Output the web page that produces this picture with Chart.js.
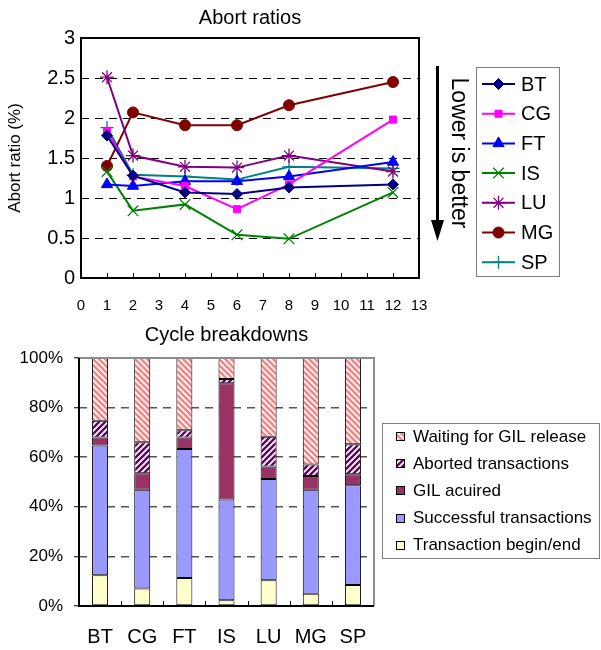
<!DOCTYPE html>
<html><head><meta charset="utf-8">
<script src="https://cdn.jsdelivr.net/npm/chart.js@4.4.0/dist/chart.umd.min.js"></script>
<style>
html,body{margin:0;padding:0;background:#fff;}
#c1{position:absolute;left:0;top:0;}
#c2{position:absolute;left:0;top:320px;}
</style></head><body>
<canvas id="c1" width="601" height="320"></canvas>
<canvas id="c2" width="601" height="330"></canvas>
<script>
// ---------- data: abort ratios ----------
const threads = [1, 2, 4, 6, 8, 12];
const abortBT = [1.78, 1.28, 1.07, 1.05, 1.13, 1.17];
const abortCG = [1.84, 1.27, 1.15, 0.86, 1.17, 1.98];
const abortFT = [1.17, 1.15, 1.21, 1.21, 1.27, 1.45];
const abortIS = [1.33, 0.84, 0.92, 0.54, 0.49, 1.07];
const abortLU = [2.51, 1.53, 1.39, 1.38, 1.53, 1.33];
const abortMG = [1.40, 2.07, 1.91, 1.91, 2.16, 2.45];
const abortSP = [1.88, 1.29, 1.27, 1.23, 1.39, 1.37];
const abortYTicks = [0, 0.5, 1, 1.5, 2, 2.5, 3];
const threadXTicks = [0,1,2,3,4,5,6,7,8,9,10,11,12,13];

// ---------- data: cycle breakdowns (%) ----------
const benchmarks = ['BT', 'CG', 'FT', 'IS', 'LU', 'MG', 'SP'];
const beginEnd   = [12.4, 7.1, 11.3, 2.3, 10.4, 4.9, 8.5];
const successful = [52.3, 39.8, 52.0, 40.6, 40.8, 42.0, 40.2];
const gilAcquired= [3.2, 6.6, 4.6, 46.9, 5.0, 5.5, 4.4];
const aborted    = [6.8, 12.5, 3.0, 1.7, 12.0, 4.7, 12.1];
const waiting    = [25.3, 34.0, 29.1, 8.5, 31.8, 42.9, 34.8];
const pctTicks = [0, 20, 40, 60, 80, 100];

const FONT = "'Liberation Sans', Arial, sans-serif";
Chart.defaults.font.family = FONT;
Chart.defaults.color = '#000';

// ---------- top chart ----------
const lineSeries = [
  {label: 'BT', values: abortBT, color: '#000080', style: 'rectRot',  r: 5.5, bw: 1},
  {label: 'CG', values: abortCG, color: '#FF00FF', style: 'rect',     r: 5,   bw: 1},
  {label: 'FT', values: abortFT, color: '#0000FF', style: 'triangle', r: 6.5, bw: 1},
  {label: 'IS', values: abortIS, color: '#008000', style: 'crossRot', r: 7.5, bw: 1.3},
  {label: 'LU', values: abortLU, color: '#800080', style: 'star',     r: 7,   bw: 1.3},
  {label: 'MG', values: abortMG, color: '#800000', style: 'circle',   r: 5.5, bw: 1},
  {label: 'SP', values: abortSP, color: '#008080', style: 'cross',    r: 6.5, bw: 1.3}
];

function drawMarker(ctx, style, r, bw, color, x, y) {
  ctx.save();
  ctx.fillStyle = color; ctx.strokeStyle = color; ctx.lineWidth = bw;
  Chart.helpers.drawPoint(ctx, {pointStyle: style, radius: r, borderWidth: bw, rotation: 0}, x, y);
  ctx.restore();
}

const topPlugin = {
  id: 'topDecor',
  afterDraw(chart) {
    const ctx = chart.ctx, a = chart.chartArea;
    const xs = chart.scales.x, ys = chart.scales.y;
    ctx.save();
    // inside tick marks
    ctx.strokeStyle = '#000'; ctx.lineWidth = 1;
    ctx.beginPath();
    threadXTicks.forEach(v => {
      if (v <= 0 || v >= 13) return;
      const px = Math.round(xs.getPixelForValue(v)) + 0.5;
      ctx.moveTo(px, a.bottom); ctx.lineTo(px, a.bottom - 5);
    });
    abortYTicks.forEach(v => {
      if (v <= 0 || v >= 3) return;
      const py = Math.round(ys.getPixelForValue(v)) + 0.5;
      ctx.moveTo(a.left, py); ctx.lineTo(a.left + 5, py);
    });
    ctx.stroke();
    // plot border
    ctx.lineWidth = 2; ctx.strokeStyle = '#000';
    ctx.strokeRect(a.left, a.top, a.right - a.left, a.bottom - a.top);

    // arrow "Lower is better"
    ctx.lineWidth = 3;
    ctx.beginPath(); ctx.moveTo(437.5, 66); ctx.lineTo(437.5, 224); ctx.stroke();
    ctx.fillStyle = '#000';
    ctx.beginPath(); ctx.moveTo(431, 220); ctx.lineTo(444, 220); ctx.lineTo(437.5, 241); ctx.closePath(); ctx.fill();
    ctx.save();
    ctx.translate(458, 153); ctx.rotate(Math.PI / 2);
    ctx.font = '23px ' + FONT; ctx.textAlign = 'center'; ctx.textBaseline = 'middle';
    ctx.fillText('Lower is better', 0, 0);
    ctx.restore();

    // legend
    ctx.lineWidth = 1; ctx.strokeStyle = '#808080';
    ctx.strokeRect(476.5, 67.5, 83, 209);
    ctx.font = '20px ' + FONT; ctx.textAlign = 'left'; ctx.textBaseline = 'middle';
    chart.data.datasets.forEach((ds, i) => {
      const y = 84 + i * 29.7;
      const s = lineSeries[i];
      ctx.strokeStyle = s.color; ctx.lineWidth = 2;
      ctx.beginPath(); ctx.moveTo(482, y); ctx.lineTo(515, y); ctx.stroke();
      drawMarker(ctx, s.style, s.r, s.bw, s.color, 498.5, y);
      ctx.fillStyle = '#000';
      ctx.fillText(ds.label, 521, y + 1);
    });
    ctx.restore();
  }
};

new Chart(document.getElementById('c1'), {
  type: 'line',
  data: {
    datasets: lineSeries.map(s => ({
      label: s.label,
      data: threads.map((t, i) => ({x: t, y: s.values[i]})),
      borderColor: s.color,
      backgroundColor: s.color,
      borderWidth: 2,
      pointStyle: s.style,
      pointRadius: s.r,
      pointBorderWidth: s.bw,
      pointBackgroundColor: s.color,
      pointBorderColor: s.color,
      tension: 0,
      fill: false
    }))
  },
  options: {
    responsive: false,
    animation: false,
    layout: {padding: {left: 0, right: 182, top: 0, bottom: 0}},
    plugins: {
      legend: {display: false},
      tooltip: {enabled: false},
      title: {display: true, text: 'Abort ratios', fullSize: false, color: '#000',
              font: {size: 20, weight: 'normal'}, padding: {top: 6, bottom: 8}}
    },
    scales: {
      x: {
        type: 'linear', min: 0, max: 13,
        afterBuildTicks: s => { s.ticks = threadXTicks.map(v => ({value: v})); },
        ticks: {font: {size: 15}, padding: 19, maxRotation: 0, autoSkip: false, color: '#000',
                callback: v => String(v)},
        grid: {display: false, drawTicks: false},
        border: {display: false},
        afterFit: s => { s.height = 42; }
      },
      y: {
        min: 0, max: 3,
        afterBuildTicks: s => { s.ticks = abortYTicks.map(v => ({value: v})); },
        ticks: {font: {size: 20}, padding: 6, color: '#000', callback: v => String(v)},
        grid: {drawTicks: false, lineWidth: 1,
               color: c => (c.tick && c.tick.value > 0 && c.tick.value < 3) ? '#000' : 'rgba(0,0,0,0)'},
        border: {display: false, dash: [8, 6]},
        title: {display: true, text: 'Abort ratio (%)', font: {size: 17}, padding: {top: 5, bottom: 0}, color: '#000'},
        afterFit: s => { s.width = 81; }
      }
    }
  },
  plugins: [topPlugin]
});

// ---------- bottom chart ----------
const c2 = document.getElementById('c2');
const ctx2 = c2.getContext('2d');
function stripePattern(bg, fg, lw, dir) {
  const s = 6;
  const c = document.createElement('canvas'); c.width = s; c.height = s;
  const g = c.getContext('2d');
  g.fillStyle = bg; g.fillRect(0, 0, s, s);
  g.strokeStyle = fg; g.lineWidth = lw; g.lineCap = 'square';
  g.beginPath();
  for (const o of [-s, 0, s]) {
    if (dir === 'back') { g.moveTo(o, 0); g.lineTo(o + s, s); }
    else { g.moveTo(o + s, 0); g.lineTo(o, s); }
  }
  g.stroke();
  return ctx2.createPattern(c, 'repeat');
}
const waitPattern = stripePattern('#FFFFFF', '#FF8080', 2.6, 'back');
const abortPattern = stripePattern('#660066', '#FFFFFF', 1.8, 'fwd');

const barSeries = [
  {label: 'Transaction begin/end', values: beginEnd, fill: '#FFFFCC'},
  {label: 'Successful transactions', values: successful, fill: '#9999FF'},
  {label: 'GIL acuired', values: gilAcquired, fill: '#993366'},
  {label: 'Aborted transactions', values: aborted, fill: abortPattern},
  {label: 'Waiting for GIL release', values: waiting, fill: waitPattern}
];

const bottomPlugin = {
  id: 'bottomDecor',
  afterDraw(chart) {
    const ctx = chart.ctx, a = chart.chartArea;
    const xs = chart.scales.x;
    ctx.save();
    // top & right border (gray)
    ctx.strokeStyle = '#8C8C8C'; ctx.lineWidth = 2;
    ctx.beginPath();
    ctx.moveTo(a.left, a.top); ctx.lineTo(a.right, a.top); ctx.lineTo(a.right, a.bottom);
    ctx.stroke();
    // left & bottom axis (black)
    ctx.strokeStyle = '#000'; ctx.lineWidth = 2;
    ctx.beginPath();
    ctx.moveTo(a.left, a.top); ctx.lineTo(a.left, a.bottom); ctx.lineTo(a.right, a.bottom);
    ctx.stroke();
    // inside category-boundary ticks
    ctx.lineWidth = 1;
    ctx.beginPath();
    for (let i = 0; i < benchmarks.length - 1; i++) {
      const px = Math.round((xs.getPixelForTick(i) + xs.getPixelForTick(i + 1)) / 2) + 0.5;
      ctx.moveTo(px, a.bottom); ctx.lineTo(px, a.bottom - 5);
    }
    ctx.stroke();
    // legend
    ctx.strokeStyle = '#808080'; ctx.lineWidth = 1;
    ctx.strokeRect(382.5, 103.5, 217, 135);
    ctx.font = '17px ' + FONT; ctx.textAlign = 'left'; ctx.textBaseline = 'middle';
    const order = chart.data.datasets.slice().reverse();
    order.forEach((ds, i) => {
      const y = 116 + i * 27.2;
      ctx.fillStyle = ds.backgroundColor;
      ctx.fillRect(396, Math.round(y) - 4, 9, 9);
      ctx.strokeStyle = '#000'; ctx.lineWidth = 1;
      ctx.strokeRect(396.5, Math.round(y) - 3.5, 8, 8);
      ctx.fillStyle = '#000';
      ctx.fillText(ds.label, 413, y + 1);
    });
    ctx.restore();
  }
};

new Chart(c2, {
  type: 'bar',
  data: {
    labels: benchmarks,
    datasets: barSeries.map(s => ({
      label: s.label,
      data: s.values,
      backgroundColor: s.fill,
      borderColor: '#000',
      borderWidth: 1,
      borderSkipped: false,
      categoryPercentage: 0.8,
      barPercentage: 0.475
    }))
  },
  options: {
    responsive: false,
    animation: false,
    layout: {padding: {left: 0, right: 227, top: 0, bottom: 0}},
    plugins: {
      legend: {display: false},
      tooltip: {enabled: false},
      title: {display: true, text: 'Cycle breakdowns', fullSize: false, color: '#000',
              font: {size: 20, weight: 'normal'}, padding: {top: 3, bottom: 11}}
    },
    scales: {
      x: {
        stacked: true,
        ticks: {font: {size: 20}, padding: 19, color: '#000'},
        grid: {display: false, drawTicks: false},
        border: {display: false},
        afterFit: s => { s.height = 44; }
      },
      y: {
        stacked: true, min: 0, max: 100,
        afterBuildTicks: s => { s.ticks = pctTicks.map(v => ({value: v})); },
        ticks: {font: {size: 17}, padding: 11, color: '#000', callback: v => v + '%'},
        grid: {drawTicks: true, tickLength: 5, tickColor: '#000', tickWidth: 1, tickBorderDash: [],
               lineWidth: 1.5,
               color: c => (c.tick && c.tick.value > 0 && c.tick.value < 100) ? '#555' : 'rgba(0,0,0,0)'},
        border: {display: false, dash: [8, 6]},
        afterFit: s => { s.width = 79; }
      }
    }
  },
  plugins: [bottomPlugin]
});
</script>
</body></html>
